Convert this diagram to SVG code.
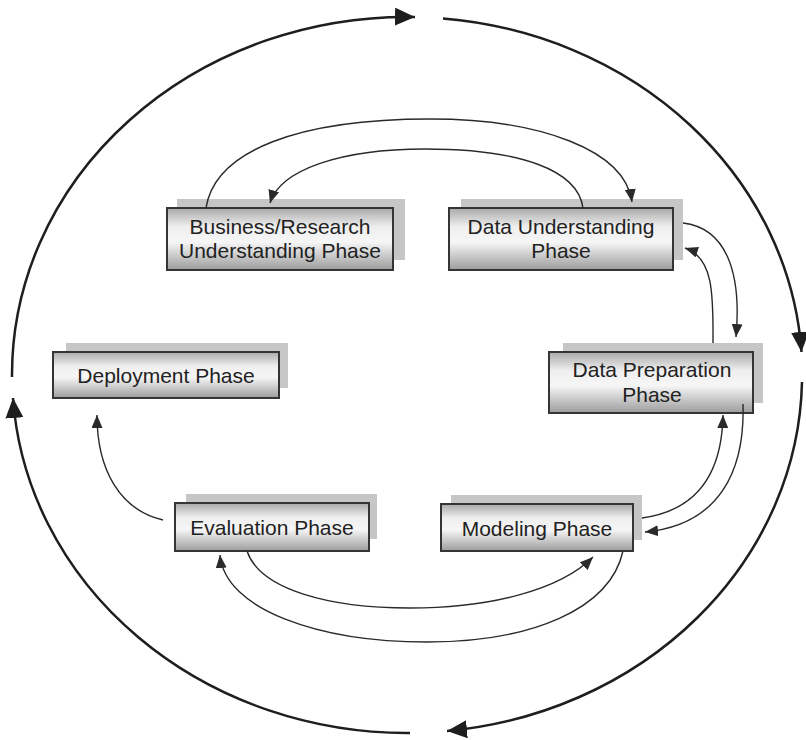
<svg xmlns="http://www.w3.org/2000/svg" width="806" height="740" viewBox="0 0 806 740">
  <defs>
    <linearGradient id="boxFill" x1="0" y1="0" x2="0" y2="1">
      <stop offset="0" stop-color="#a9a9a9"/>
      <stop offset="0.3" stop-color="#eeeeee"/>
      <stop offset="0.55" stop-color="#f6f6f6"/>
      <stop offset="1" stop-color="#9c9c9c"/>
    </linearGradient>
    <marker id="headSmall" markerUnits="userSpaceOnUse" markerWidth="13" markerHeight="11" refX="13" refY="5.5" orient="auto">
      <path d="M0,0 L13,5.5 L0,11 z" fill="#2a2a2a"/>
    </marker>
    <marker id="headLarge" markerUnits="userSpaceOnUse" markerWidth="20" markerHeight="18" refX="20" refY="9" orient="auto">
      <path d="M0,0 L20,9 L0,18 z" fill="#1e1e1e"/>
    </marker>
  </defs>
  <style>
    .shadow { fill: #c6c6c6; }
    .box { fill: url(#boxFill); stroke: #353535; stroke-width: 2; }
    .label { font-family: "Liberation Sans", Arial, sans-serif; font-size: 21px; fill: #222222; text-anchor: middle; }
    .cycle { fill: none; stroke: #1e1e1e; stroke-width: 2.5; marker-end: url(#headLarge); }
    .link { fill: none; stroke: #2a2a2a; stroke-width: 1.4; marker-end: url(#headSmall); }
  </style>

  <rect width="806" height="740" fill="#ffffff"/>

  <!-- phase boxes -->
  <g id="business-understanding">
    <rect class="shadow" x="177" y="199" width="228" height="61"/>
    <rect class="box" x="167" y="208" width="226" height="62"/>
    <text class="label" x="280" y="234">Business/Research</text>
    <text class="label" x="280" y="258">Understanding Phase</text>
  </g>
  <g id="data-understanding">
    <rect class="shadow" x="461" y="199" width="222" height="61"/>
    <rect class="box" x="449" y="208" width="224" height="62"/>
    <text class="label" x="561" y="234">Data Understanding</text>
    <text class="label" x="561" y="258">Phase</text>
  </g>
  <g id="deployment">
    <rect class="shadow" x="66" y="343" width="222" height="45"/>
    <rect class="box" x="53" y="352" width="226" height="46"/>
    <text class="label" x="166" y="383">Deployment Phase</text>
  </g>
  <g id="data-preparation">
    <rect class="shadow" x="563" y="343" width="200" height="60"/>
    <rect class="box" x="549" y="352" width="204" height="61"/>
    <text class="label" x="652" y="377">Data Preparation</text>
    <text class="label" x="652" y="402">Phase</text>
  </g>
  <g id="evaluation">
    <rect class="shadow" x="186" y="494" width="191" height="45"/>
    <rect class="box" x="175" y="503" width="194" height="48"/>
    <text class="label" x="272" y="535">Evaluation Phase</text>
  </g>
  <g id="modeling">
    <rect class="shadow" x="451" y="495" width="191" height="45"/>
    <rect class="box" x="441" y="504" width="192" height="47"/>
    <text class="label" x="537" y="536">Modeling Phase</text>
  </g>

  <!-- connectors -->
  <g id="connectors">
    <!-- outer cycle -->
    <path class="cycle" d="M12,377 A395,358 0 0 1 415,17"/>
    <path class="cycle" d="M443,18.5 A395,358 0 0 1 801.5,352"/>
    <path class="cycle" d="M802,382 A395,358 0 0 1 447,731"/>
    <path class="cycle" d="M410,733 A395,358 0 0 1 13,398"/>

    <!-- business <-> data understanding -->
    <path class="link" d="M206,208 C215,150 300,119 430,119 C540,119 625,150 632,202"/>
    <path class="link" d="M583,208 C578,170 520,149 425,149 C340,149 280,170 270,203"/>

    <!-- data understanding <-> data preparation -->
    <path class="link" d="M683,223 C725,228 742,270 736,337"/>
    <path class="link" d="M713,343 C713,300 715,258 685,248"/>

    <!-- data preparation <-> modeling -->
    <path class="link" d="M642,518 C700,510 722,470 723,415"/>
    <path class="link" d="M743,404 C745,470 720,525 645,532"/>

    <!-- modeling <-> evaluation -->
    <path class="link" d="M623,551 C610,610 530,642 427,642 C320,642 225,610 220,555"/>
    <path class="link" d="M247,551 C260,590 330,608 410,608 C490,608 560,590 593,557"/>

    <!-- evaluation -> deployment -->
    <path class="link" d="M163,520 C120,510 97,470 97,415"/>
  </g>
</svg>
